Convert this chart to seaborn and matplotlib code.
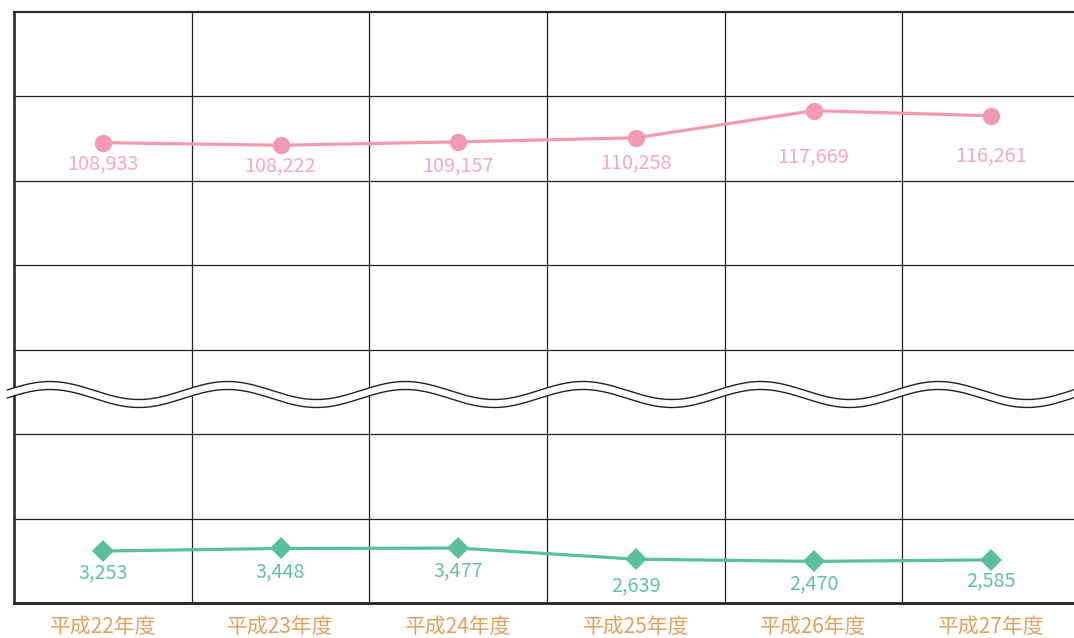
import numpy as np
import pandas as pd
import matplotlib
matplotlib.use("Agg")
import matplotlib.pyplot as plt
import seaborn as sns

# Fiscal years (Heisei era) and the two series
years = ["平成22年度", "平成23年度", "平成24年度", "平成25年度", "平成26年度", "平成27年度"]
upper_values = [108933, 108222, 109157, 110258, 117669, 116261]
lower_values = [3253, 3448, 3477, 2639, 2470, 2585]

PINK = "#f39ab1"
PINK_TEXT = "#f5a9bd"
GREEN = "#58c09a"
GREEN_TEXT = "#62c4a0"
ORANGE = "#e1a15f"
INK = "#222222"

sns.set_theme(style="white")
plt.rcParams["font.family"] = ["Noto Sans CJK JP", "DejaVu Sans"]

W_PX, H_PX = 1074, 638
fig = plt.figure(figsize=(W_PX / 100, H_PX / 100), dpi=100)

# frame geometry (pixels); the last column runs past the right edge
left_px, right_px = 14, 1080
top_px, bottom_px, break_px = 12, 603, 395


def frac_box(x0, x1, y_top, y_bot):
    return [x0 / W_PX, (H_PX - y_bot) / H_PX, (x1 - x0) / W_PX, (y_bot - y_top) / H_PX]


n = len(years)
xpos = np.arange(n)
xlim = (-0.5, n - 0.5)

# background grid: one column per year, seven horizontal bands
bg = fig.add_axes(frac_box(left_px, right_px, top_px, bottom_px))
bg.set_xlim(*xlim)
bg.set_ylim(0, 7)
bg.set_xticks(xpos, labels=years)
bg.set_xticks(np.arange(0.5, n - 0.5, 1), minor=True)
bg.set_yticks(np.arange(1, 7))
bg.set_yticklabels([])
bg.tick_params(axis="both", which="both", length=0)
bg.tick_params(axis="x", which="major", labelsize=15, labelcolor=ORANGE, pad=9.5)
bg.grid(False)
bg.grid(axis="x", which="minor", color=INK, linewidth=0.9)
bg.grid(axis="y", which="major", color=INK, linewidth=0.9)
for side, lw in (("left", 1.9), ("top", 1.6), ("bottom", 2.1)):
    bg.spines[side].set_color("#2a2a2a")
    bg.spines[side].set_linewidth(lw)
bg.spines["right"].set_visible(False)

# wavy axis break across the whole width
band_px = (bottom_px - top_px) / 7
col_px = (right_px - left_px) / n
wx = np.linspace(-0.5 - 7 / col_px, n - 0.3, 800)
phase = 2 * np.pi * (wx - (-0.5 + 36 / col_px))
amp = 9 / band_px
upper_c = (bottom_px - 390.5) / band_px
lower_c = (bottom_px - 398.5) / band_px
wave_top = upper_c + amp * np.cos(phase)
wave_bot = lower_c + amp * np.cos(phase)
bg.fill_between(wx, wave_bot, wave_top, color="white", zorder=3, clip_on=False, linewidth=0)
bg.plot(wx, wave_top, color=INK, linewidth=1.0, zorder=3.1, clip_on=False)
bg.plot(wx, wave_bot, color=INK, linewidth=1.0, zorder=3.1, clip_on=False)

# data panels above and below the break
ax_top = fig.add_axes(frac_box(left_px, right_px, top_px, break_px))
ax_bot = fig.add_axes(frac_box(left_px, right_px, break_px, bottom_px))
ax_top.set_ylim(40060, 144592)
ax_bot.set_ylim(-680, 15066)

df_top = pd.DataFrame({"x": xpos, "v": upper_values})
df_bot = pd.DataFrame({"x": xpos, "v": lower_values})

sns.lineplot(data=df_top, x="x", y="v", ax=ax_top, color=PINK, linewidth=2.3,
             marker="o", markersize=12.5, markeredgewidth=0)
sns.lineplot(data=df_bot, x="x", y="v", ax=ax_bot, color=GREEN, linewidth=2.3,
             marker="D", markersize=11, markeredgewidth=0)

# value labels sit below each marker (drop in points)
top_drop = [15, 14.5, 17, 18, 33, 29]
bot_drop = [16, 16.5, 16, 19.5, 16, 15]

for ax, df, tcol, drops in ((ax_top, df_top, PINK_TEXT, top_drop),
                            (ax_bot, df_bot, GREEN_TEXT, bot_drop)):
    ax.set_xlim(*xlim)
    ax.set_axis_off()
    ax.patch.set_alpha(0)
    for x, v, d in zip(df["x"], df["v"], drops):
        ax.annotate(f"{v:,}", (x, v), xytext=(0, -d), textcoords="offset points",
                    ha="center", va="center", fontsize=14.3, color=tcol)

fig.savefig("out.png", dpi=100)
